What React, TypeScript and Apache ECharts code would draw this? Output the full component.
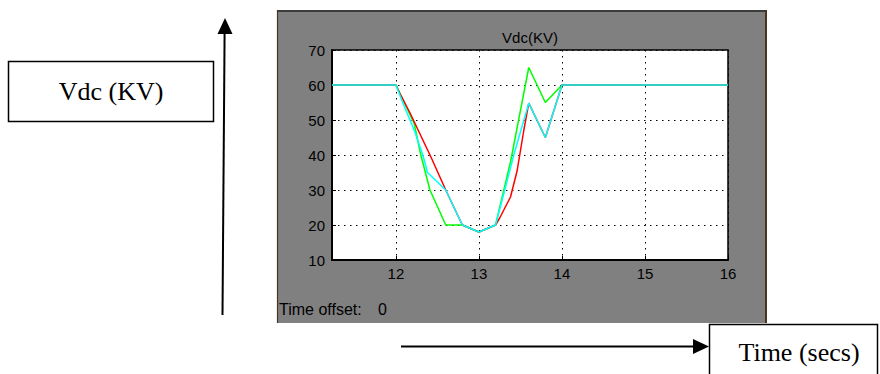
import React, { useEffect, useRef } from "react";
import * as echarts from "echarts";

// ---- data ----
const xTicks = [12, 13, 14, 15, 16];
const yTicks = [10, 20, 30, 40, 50, 60, 70];

const redTime = [11.23, 12, 12.05, 12.17, 12.29, 12.43, 12.6, 12.8, 13, 13.2, 13.25, 13.38, 13.46, 13.54, 13.6, 13.8, 14, 16];
const redVdc = [60, 60, 57.5, 52, 46, 39, 30, 20, 18, 20, 22, 28, 35.5, 47, 54.8, 45, 60, 60];

const greenTime = [11.23, 12, 12.22, 12.3, 12.41, 12.6, 12.8, 13, 13.2, 13.38, 13.6, 13.8, 14, 16];
const greenVdc = [60, 60, 49, 40, 30, 20, 20, 18, 20, 38, 65, 55, 60, 60];

const cyanTime = [11.23, 12, 12.09, 12.23, 12.33, 12.38, 12.6, 12.8, 13, 13.2, 13.3, 13.42, 13.6, 13.8, 14, 16];
const cyanVdc = [60, 60, 54.5, 46.5, 39.5, 35, 30, 20, 18, 20, 29, 40, 54.8, 45, 60, 60];

const zip = (t: number[], v: number[]) => t.map((x, i) => [x, v[i]]);

const SANS = "'Liberation Sans', Arial, sans-serif";
const SERIF = "'Liberation Serif', 'Times New Roman', serif";

export default function App() {
  const ref = useRef<HTMLDivElement>(null);
  useEffect(() => {
    if (!ref.current) return;
    const chart = echarts.init(ref.current, undefined, { renderer: "svg" });
    const dotted = { color: "#000", width: 1, type: [1.5, 4.5] as any };
    chart.setOption({
      animation: false,
      backgroundColor: "#fff",
      grid: {
        left: 332,
        top: 50,
        right: 152,
        bottom: 114,
        show: true,
        backgroundColor: "#fff",
        borderColor: "#000",
        borderWidth: 1.5,
      },
      xAxis: {
        type: "value",
        min: 11.23,
        max: 16,
        splitNumber: 5,
        axisLine: { show: true, lineStyle: { color: "#000", width: 2 } },
        axisTick: { show: true, inside: true, length: 4, lineStyle: { color: "#000" } },
        axisLabel: {
          color: "#000",
          fontFamily: SANS,
          fontSize: 15,
          margin: 6,
          formatter: (v: number) => (xTicks.includes(v) ? String(v) : ""),
        },
        splitLine: { show: true, lineStyle: dotted },
      },
      yAxis: {
        type: "value",
        min: yTicks[0],
        max: yTicks[yTicks.length - 1],
        interval: 10,
        axisLine: { show: true, lineStyle: { color: "#000", width: 2 } },
        axisTick: { show: true, inside: true, length: 4, lineStyle: { color: "#000" } },
        axisLabel: { color: "#000", fontFamily: SANS, fontSize: 15, margin: 7 },
        splitLine: { show: true, lineStyle: dotted },
      },
      series: [
        { type: "line", data: zip(greenTime, greenVdc), showSymbol: false, lineStyle: { color: "#00ff00", width: 1.5 }, z: 2 },
        { type: "line", data: zip(redTime, redVdc), showSymbol: false, lineStyle: { color: "#ff0000", width: 1.5 }, z: 3 },
        { type: "line", data: zip(cyanTime, cyanVdc), showSymbol: false, lineStyle: { color: "#00ffff", width: 1.5 }, z: 4 },
      ],
      graphic: [
        { type: "rect", z: -10, shape: { x: 277, y: 10, width: 490, height: 313 }, style: { fill: "#808080" } },
        { type: "line", z: -9, shape: { x1: 277, y1: 11, x2: 767, y2: 11 }, style: { stroke: "#3c3c3c", lineWidth: 2 } },
        { type: "line", z: -9, shape: { x1: 277.5, y1: 10, x2: 277.5, y2: 323 }, style: { stroke: "#4a3520", lineWidth: 1.2 } },
        { type: "line", z: -9, shape: { x1: 766, y1: 10, x2: 766, y2: 323 }, style: { stroke: "#4a3520", lineWidth: 2 } },
        { type: "text", x: 530, y: 37, style: { text: "Vdc(KV)", fill: "#000", font: `15px ${SANS}`, textAlign: "center", textVerticalAlign: "middle" } },
        { type: "text", x: 279, y: 309, style: { text: "Time offset:", fill: "#000", font: `16px ${SANS}`, textVerticalAlign: "middle" } },
        { type: "text", x: 378, y: 309, style: { text: "0", fill: "#000", font: `16px ${SANS}`, textVerticalAlign: "middle" } },
        // Vdc annotation box
        { type: "rect", shape: { x: 8.5, y: 61.5, width: 205, height: 60 }, style: { fill: "none", stroke: "#000", lineWidth: 1.5 } },
        { type: "text", x: 111, y: 91, style: { text: "Vdc (KV)", fill: "#000", font: `26px ${SERIF}`, textAlign: "center", textVerticalAlign: "middle" } },
        // vertical arrow
        { type: "line", shape: { x1: 222.5, y1: 315, x2: 224.6, y2: 32 }, style: { stroke: "#000", lineWidth: 2 } },
        { type: "polygon", shape: { points: [[225, 18], [217.5, 34], [232.5, 34]] }, style: { fill: "#000" } },
        // horizontal arrow
        { type: "line", shape: { x1: 401, y1: 346.5, x2: 695, y2: 346.5 }, style: { stroke: "#000", lineWidth: 2 } },
        { type: "polygon", shape: { points: [[709, 346.5], [693, 339], [693, 354]] }, style: { fill: "#000" } },
        // Time annotation box
        { type: "rect", shape: { x: 709.5, y: 324.5, width: 168, height: 60 }, style: { fill: "none", stroke: "#000", lineWidth: 1.5 } },
        { type: "text", x: 799, y: 352, style: { text: "Time (secs)", fill: "#000", font: `26px ${SERIF}`, textAlign: "center", textVerticalAlign: "middle" } },
      ],
    });
    return () => chart.dispose();
  }, []);
  return <div ref={ref} style={{ position: "fixed", left: 0, top: 0, width: 880, height: 374 }} />;
}
